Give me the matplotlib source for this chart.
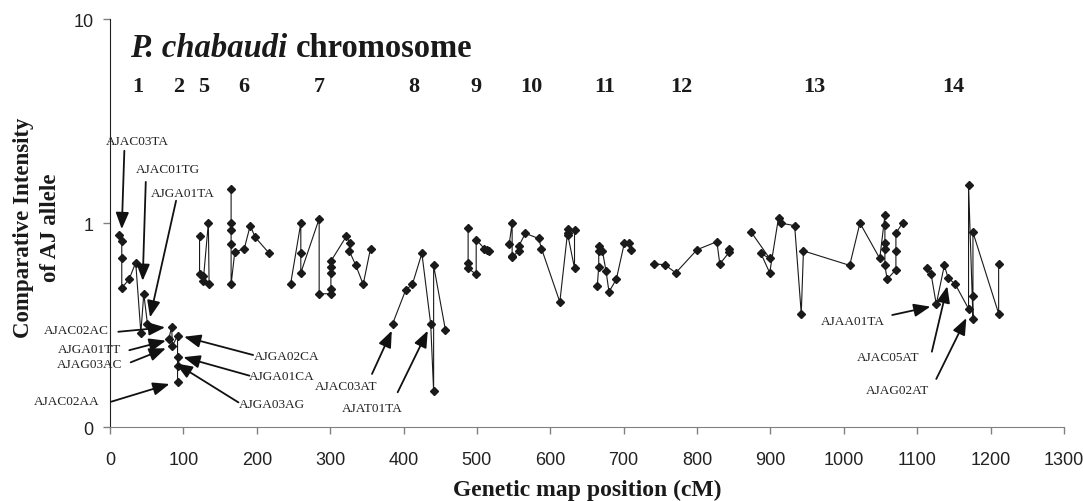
import matplotlib
matplotlib.use("Agg")
import matplotlib.pyplot as plt
from matplotlib.ticker import FixedLocator, NullLocator

# marker positions (cM) and comparative intensity of the AJ allele, per chromosome
chr1_cm = [12, 16, 16, 16, 26, 35, 42, 46, 51]
chr1_val = [0.87, 0.82, 0.67, 0.48, 0.53, 0.64, 0.29, 0.45, 0.32]
chr2_cm = [80, 84, 85, 92, 92, 92, 92]
chr2_val = [0.27, 0.31, 0.25, 0.28, 0.22, 0.20, 0.167]
chr5_cm = [122, 122, 127, 127, 134, 135]
chr5_val = [0.86, 0.56, 0.55, 0.52, 1.0, 0.50]
chr6_cm = [165, 165, 165, 165, 165, 170, 183, 191, 198, 217]
chr6_val = [1.46, 1.0, 0.92, 0.79, 0.50, 0.72, 0.75, 0.97, 0.85, 0.71]
chr7_cm = [246, 260, 260, 260, 285, 285, 301, 301, 301, 301, 301, 322, 327, 326, 335, 345, 355]
chr7_val = [0.50, 1.0, 0.71, 0.57, 1.05, 0.45, 0.45, 0.475, 0.57, 0.61, 0.65,
            0.86, 0.80, 0.73, 0.62, 0.50, 0.75]
chr8_cm = [385, 403, 412, 425, 437, 441, 441, 457]
chr8_val = [0.32, 0.47, 0.50, 0.71, 0.32, 0.15, 0.62, 0.30]
chr9_cm = [488, 488, 488, 499, 499, 510, 514, 516]
chr9_val = [0.94, 0.64, 0.60, 0.56, 0.83, 0.75, 0.74, 0.73]
chr10_cm = [544, 548, 548, 548, 557, 557, 566, 584, 588, 613, 624, 624, 624, 633, 633]
chr10_val = [0.79, 1.0, 0.69, 0.68, 0.73, 0.77, 0.89, 0.84, 0.75, 0.41,
             0.93, 0.89, 0.87, 0.60, 0.92]
chr11_cm = [664, 666, 666, 667, 671, 676, 680, 690, 701, 707, 710]
chr11_val = [0.49, 0.61, 0.73, 0.77, 0.73, 0.58, 0.46, 0.53, 0.80, 0.80, 0.74]
chr12_cm = [741, 756, 771, 800, 827, 831, 844, 844]
chr12_val = [0.63, 0.625, 0.57, 0.74, 0.81, 0.63, 0.72, 0.75]
chr13_cm = [874, 899, 887, 899, 911, 914, 933, 942, 945, 1008, 1022, 1049,
            1056, 1056, 1056, 1056, 1056, 1059, 1071, 1071, 1071, 1080]
chr13_val = [0.90, 0.67, 0.71, 0.57, 1.06, 1.0, 0.97, 0.36, 0.73, 0.62, 1.0, 0.67,
             1.09, 0.98, 0.80, 0.75, 0.62, 0.53, 0.59, 0.73, 0.89, 1.0]
chr14_cm = [1114, 1119, 1126, 1137, 1142, 1152, 1170, 1170, 1176, 1176, 1176, 1211, 1211]
chr14_val = [0.60, 0.56, 0.40, 0.62, 0.54, 0.50, 0.38, 1.54, 0.34, 0.44, 0.90, 0.36, 0.63]

chrom_names = ["1", "2", "5", "6", "7", "8", "9", "10", "11", "12", "13", "14"]
chrom_label_cm = [38, 93, 127, 182, 285, 414, 498, 574, 674, 778, 960, 1149]

# marker labels: text position, arrow tail, arrow head (cM, intensity)
marker_names = ["AJAC03TA", "AJAC01TG", "AJGA01TA", "AJAC02AC", "AJGA01TT",
                "AJAG03AC", "AJAC02AA", "AJGA02CA", "AJGA01CA", "AJGA03AG",
                "AJAC03AT", "AJAT01TA", "AJAA01TA", "AJAC05AT", "AJAG02AT"]
marker_text = [(37, 2.52), (79, 1.84), (99, 1.40), (-46, 0.299), (-28, 0.241),
               (-28, 0.204), (-59, 0.1336), (241, 0.222), (234, 0.177), (220, 0.129),
               (322, 0.159), (357, 0.1236), (1012, 0.332), (1061, 0.22), (1073, 0.1524)]
arrow_tail = [(19.5, 2.26), (48.7, 1.59), (90, 1.286), (11.3, 0.293), (26.3, 0.238),
              (28.2, 0.2075), (1.4, 0.133), (195, 0.2254), (190, 0.1785), (175, 0.132),
              (357, 0.182), (392, 0.148), (1066, 0.354), (1120, 0.234), (1126, 0.172)]
arrow_head = [(16, 0.934), (44.5, 0.521), (54.5, 0.345), (75, 0.308), (76, 0.265),
              (76, 0.243), (81, 0.1625), (101, 0.277), (100, 0.22), (89.6, 0.205),
              (384, 0.2965), (433, 0.2965), (1118, 0.389), (1141, 0.49), (1167, 0.342)]

all_cm = [chr1_cm, chr2_cm, chr5_cm, chr6_cm, chr7_cm, chr8_cm, chr9_cm,
          chr10_cm, chr11_cm, chr12_cm, chr13_cm, chr14_cm]
all_val = [chr1_val, chr2_val, chr5_val, chr6_val, chr7_val, chr8_val, chr9_val,
           chr10_val, chr11_val, chr12_val, chr13_val, chr14_val]

plt.rcParams["font.family"] = "Liberation Serif"

fig = plt.figure(figsize=(10.83, 5.02), dpi=100)
ax = fig.add_axes([0.1016, 0.1474, 0.8808, 0.8127])

for cm, val in zip(all_cm, all_val):
    ax.plot(cm, val, color="#1a1a1a", lw=0.8, marker="D", ms=4, mec="#1a1a1a", mfc="#1a1a1a")

ax.set_yscale("log")
ax.set_ylim(0.1, 10)
ax.set_xlim(0, 1300)
ax.yaxis.set_major_locator(FixedLocator([0.1, 1, 10]))
ax.yaxis.set_minor_locator(NullLocator())
ax.set_yticklabels(["0", "1", "10"])
ax.set_xticks(range(0, 1301, 100))

for s in ["top", "right"]:
    ax.spines[s].set_visible(False)
ax.spines["left"].set_color("#222222")
ax.spines["bottom"].set_color("#808080")
ax.tick_params(axis="x", colors="#808080", length=5, width=1, pad=12, labelcolor="#222222")
ax.tick_params(axis="y", colors="#808080", length=5, width=1, pad=7, labelcolor="#222222")
for lab in ax.get_xticklabels() + ax.get_yticklabels():
    lab.set_fontfamily("Liberation Sans")
    lab.set_fontsize(13)

# title with italic species name
t1 = ax.text(27, 6.59, "P. chabaudi", fontsize=23.5, fontweight="bold", fontstyle="italic",
             va="baseline", ha="left", color="#1a1a1a")
ax.annotate("chromosome", xy=(1, 0), xycoords=t1, xytext=(6, 0), textcoords="offset points",
            fontsize=23.5, fontweight="bold", va="bottom", ha="left", color="#1a1a1a")

for name, pos in zip(chrom_names, chrom_label_cm):
    ax.text(pos, 4.70, name, fontsize=16, fontweight="bold", ha="center", va="center",
            color="#1a1a1a")

for name, tp, tail, head in zip(marker_names, marker_text, arrow_tail, arrow_head):
    ax.text(tp[0], tp[1], name, fontsize=9.5, ha="center", va="center", color="#222222",
            clip_on=False)
    ax.annotate("", xy=head, xytext=tail, annotation_clip=False,
                arrowprops=dict(arrowstyle="-|>,head_length=1.0,head_width=0.4",
                                color="#111111", lw=1.3, shrinkA=0, shrinkB=0))

# two-line y label, drawn as two texts
fig.text(24 / 1083, 1 - 228 / 502, "Comparative Intensity", rotation=90,
         fontsize=16.5, fontweight="bold", ha="center", va="center", color="#1a1a1a")
fig.text(51 / 1083, 1 - 228 / 502, "of AJ allele", rotation=90,
         fontsize=16.5, fontweight="bold", ha="center", va="center", color="#1a1a1a")
fig.text(0.542, 1 - 490 / 502, "Genetic map position (cM)", fontsize=17, fontweight="bold",
         ha="center", va="center", color="#1a1a1a")

fig.savefig("out.png", dpi=100)
